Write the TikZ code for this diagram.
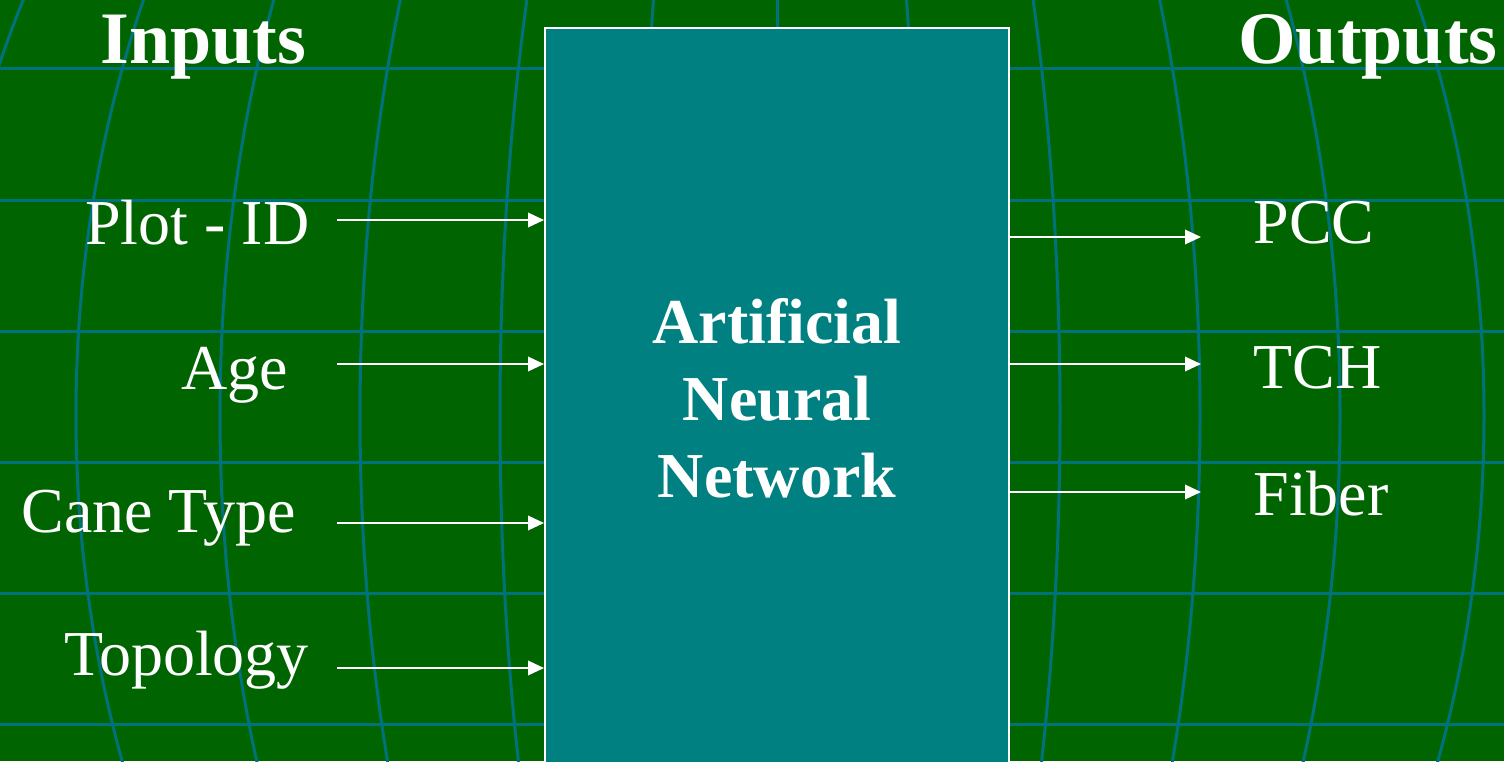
\documentclass[tikz,border=0pt]{standalone}
\usepackage{fontspec}
\setmainfont{Liberation Serif}
\usepackage{tikz}
\usetikzlibrary{arrows.meta}
\definecolor{bggreen}{RGB}{0,100,0}
\definecolor{gridteal}{RGB}{0,114,124}
\definecolor{boxteal}{RGB}{0,128,128}

\begin{document}
\begin{tikzpicture}[x=0.5pt,y=-0.5pt,-{Triangle[length=8pt,width=7.3pt]}]
	\tikzstyle{gridline}=[-,draw=gridteal,line width=1.5pt]
	\tikzstyle{heading}=[text=white,font=\fontsize{37}{44}\selectfont\bfseries,inner sep=0pt,anchor=base west]
	\tikzstyle{io}=[text=white,font=\fontsize{32}{38}\selectfont,inner sep=0pt,anchor=base west]
	\tikzstyle{flow}=[draw=white,line width=0.8pt]
	\clip (0,0) rectangle (1504,761);
	\fill[bggreen] (0,0) rectangle (1504,761);
	% background grid
	\foreach \y in {68,200,331,462,593,724}
		\draw[gridline] (0,\y) -- (1504,\y);
	\foreach \a in {140,280,420,560,704,837}
		\draw[gridline] (780,415) ellipse [x radius=\a, y radius=970];
	\draw[gridline] (777,0) -- (777,100);
	% network block
	\node[draw=white,fill=boxteal,line width=1pt,minimum width=232pt,minimum height=370pt,
		text=white,align=center,font=\fontsize{32}{38.4}\selectfont\bfseries] (ann) at (777,398) {Artificial\\Neural\\Network};
	\node[heading] (inputs) at (100,63) {Inputs};
	\node[heading] (outputs) at (1238,63) {Outputs};
	\node[io] (plot) at (85,244) {Plot - ID};
	\node[io] (age) at (181,389) {Age};
	\node[io] (cane) at (21,532) {Cane Type};
	\node[io] (topo) at (64,675) {Topology};
	\node[io] (pcc) at (1253,243) {PCC};
	\node[io] (tch) at (1253,388) {TCH};
	\node[io] (fiber) at (1253,515) {Fiber};
	% arrows
	\foreach \y [count=\i] in {220,364,523,668} {
		\coordinate (p\i) at (337,\y);
		\draw[flow] (p\i) -- (p\i -| ann.west);
	}
	\foreach \y [count=\i] in {237,364,492} {
		\coordinate (q\i) at (1201,\y);
		\draw[flow] (q\i -| ann.east) -- (q\i);
	}
\end{tikzpicture}
\end{document}
